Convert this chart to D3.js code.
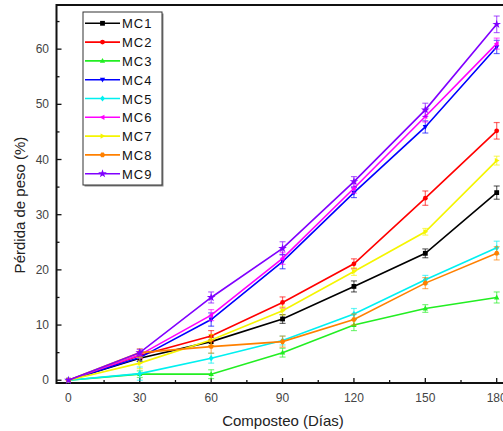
<!DOCTYPE html>
<html>
<head>
<meta charset="utf-8">
<script src="https://cdn.jsdelivr.net/npm/d3@7/dist/d3.min.js"></script>
<style>
  html, body { margin: 0; padding: 0; background: #fff; }
  svg { display: block; }
  text { font-family: "Liberation Sans", Arial, sans-serif; }
</style>
</head>
<body>
<svg id="chart" width="503" height="431"></svg>
<script>
// Composting days
const days = [0, 30, 60, 90, 120, 150, 180];

// Weight loss (%) per treatment
const seriesNames = ["MC1", "MC2", "MC3", "MC4", "MC5", "MC6", "MC7", "MC8", "MC9"];
const mc1 = [0, 4.0, 7.0, 11.1, 17.0, 23.0, 34.0];
const mc2 = [0, 4.5, 8.0, 14.1, 21.1, 33.0, 45.2];
const mc3 = [0, 1.1, 1.1, 5.0, 10.0, 13.0, 15.0];
const mc4 = [0, 4.1, 11.0, 21.5, 34.0, 45.9, 60.4];
const mc5 = [0, 1.2, 4.0, 7.2, 12.0, 18.2, 24.0];
const mc6 = [0, 4.6, 11.8, 22.1, 34.8, 47.8, 61.0];
const mc7 = [0, 3.1, 7.3, 12.6, 19.7, 26.9, 39.8];
const mc8 = [0, 5.0, 6.1, 7.0, 11.0, 17.6, 23.0];
const mc9 = [0, 5.0, 15.0, 23.9, 36.0, 49.0, 64.5];

// Standard deviations
const err1 = [0, 0.6, 0.8, 0.8, 1.0, 0.8, 1.2];
const err2 = [0, 0.6, 1.0, 1.0, 0.9, 1.3, 1.5];
const err3 = [0, 0.6, 0.8, 0.8, 1.0, 0.7, 1.0];
const err4 = [0, 0.7, 1.2, 1.3, 0.9, 1.1, 1.2];
const err5 = [0, 1.2, 0.9, 0.8, 1.0, 0.8, 1.2];
const err6 = [0, 0.6, 1.0, 1.1, 0.9, 1.0, 1.0];
const err7 = [0, 1.0, 1.0, 0.8, 0.7, 0.6, 0.8];
const err8 = [0, 0.7, 1.2, 1.0, 1.0, 1.0, 1.2];
const err9 = [0, 0.6, 1.0, 1.2, 0.9, 1.2, 1.5];

const colors = ["#000000", "#ff0000", "#22ee22", "#0000ff", "#00f0f0",
                "#ff00ff", "#f5f500", "#ff8000", "#8000ff"];
const symbols = ["square", "circle", "up", "down", "diamond", "left", "right", "hexagon", "star"];

const xTicks = [0, 30, 60, 90, 120, 150, 180];
const yTicks = [0, 10, 20, 30, 40, 50, 60];

const values = [mc1, mc2, mc3, mc4, mc5, mc6, mc7, mc8, mc9];
const errors = [err1, err2, err3, err4, err5, err6, err7, err8, err9];

const svg = d3.select("#chart");
const plotLeft = 56.5, plotRight = 508.6, plotTop = 5, plotBottom = 383;

const x = d3.scaleLinear().domain([-5, 185]).range([plotLeft, plotRight]);
const y = d3.scaleLinear().domain([-0.5, 68]).range([plotBottom, plotTop]);

// Marker shapes
function markerPath(kind, r) {
  switch (kind) {
    case "square": return `M${-r},${-r}H${r}V${r}H${-r}Z`;
    case "circle": return d3.symbol(d3.symbolCircle, Math.PI * r * r)();
    case "up": return `M0,${-r * 1.2}L${r * 1.1},${r * 0.8}L${-r * 1.1},${r * 0.8}Z`;
    case "down": return `M0,${r * 1.2}L${r * 1.1},${-r * 0.8}L${-r * 1.1},${-r * 0.8}Z`;
    case "diamond": return `M0,${-r * 1.3}L${r},0L0,${r * 1.3}L${-r},0Z`;
    case "left": return `M${-r * 1.2},0L${r * 0.8},${-r * 1.1}L${r * 0.8},${r * 1.1}Z`;
    case "right": return `M${r * 1.2},0L${-r * 0.8},${-r * 1.1}L${-r * 0.8},${r * 1.1}Z`;
    case "hexagon": {
      const pts = d3.range(6).map(i => {
        const a = Math.PI / 3 * i;
        return [r * 1.1 * Math.cos(a), r * 1.1 * Math.sin(a)];
      });
      return "M" + pts.map(p => p.join(",")).join("L") + "Z";
    }
    case "star": return d3.symbol(d3.symbolStar, r * r * 4)();
  }
}

// Plot frame
svg.append("rect")
  .attr("x", plotLeft).attr("y", plotTop)
  .attr("width", plotRight - plotLeft).attr("height", plotBottom - plotTop)
  .attr("fill", "none").attr("stroke", "#111").attr("stroke-width", 2);

// Inward ticks
const axisG = svg.append("g").attr("stroke", "#111").attr("stroke-width", 1.3);
d3.range(0, 181, 15).forEach(v => {
  const len = v % 30 === 0 ? 5 : 3;
  axisG.append("line").attr("x1", x(v)).attr("x2", x(v))
    .attr("y1", plotBottom).attr("y2", plotBottom - len);
});
d3.range(0, 66, 5).forEach(v => {
  const len = v % 10 === 0 ? 5 : 3;
  axisG.append("line").attr("y1", y(v)).attr("y2", y(v))
    .attr("x1", plotLeft).attr("x2", plotLeft + len);
});

// Tick labels
svg.append("g").selectAll("text").data(xTicks).join("text")
  .attr("x", d => x(d)).attr("y", 402)
  .attr("text-anchor", "middle")
  .attr("font-size", 12).attr("fill", "#444")
  .text(d => d);
svg.append("g").selectAll("text").data(yTicks).join("text")
  .attr("x", 49).attr("y", d => y(d) + 4)
  .attr("text-anchor", "end")
  .attr("font-size", 12).attr("fill", "#444")
  .text(d => d);

// Axis titles
svg.append("text")
  .attr("x", 283).attr("y", 426)
  .attr("text-anchor", "middle")
  .attr("font-size", 15).attr("fill", "#222")
  .text("Composteo (Días)");
svg.append("text")
  .attr("transform", "translate(25,205) rotate(-90)")
  .attr("text-anchor", "middle")
  .attr("font-size", 15).attr("fill", "#222")
  .text("Pérdida de peso (%)");

// Series
const plot = svg.append("g");
values.forEach((vals, i) => {
  const pts = days.map((d, k) => ({ d, v: vals[k], e: errors[i][k] }));
  const g = plot.append("g");

  // error bars
  const eb = g.append("g").attr("stroke", colors[i]).attr("stroke-opacity", 0.6)
    .attr("stroke-width", 1.2);
  pts.filter(p => p.e > 0).forEach(p => {
    eb.append("line").attr("x1", x(p.d)).attr("x2", x(p.d))
      .attr("y1", y(p.v - p.e)).attr("y2", y(p.v + p.e));
    [p.v - p.e, p.v + p.e].forEach(c => {
      eb.append("line").attr("x1", x(p.d) - 3).attr("x2", x(p.d) + 3)
        .attr("y1", y(c)).attr("y2", y(c));
    });
  });

  g.append("path")
    .datum(pts)
    .attr("fill", "none")
    .attr("stroke", colors[i])
    .attr("stroke-width", 1.6)
    .attr("d", d3.line().x(p => x(p.d)).y(p => y(p.v)));

  g.selectAll("path.m").data(pts).join("path")
    .attr("class", "m")
    .attr("transform", p => `translate(${x(p.d)},${y(p.v)})`)
    .attr("d", markerPath(symbols[i], 2.4))
    .attr("fill", colors[i]);
});

// Legend
const lg = svg.append("g");
const lx = 83, ly = 12, lw = 79, lh = 173;
lg.append("rect").attr("x", lx + 1.5).attr("y", ly + 1.5)
  .attr("width", lw).attr("height", lh).attr("fill", "#888");
lg.append("rect").attr("x", lx).attr("y", ly)
  .attr("width", lw).attr("height", lh)
  .attr("fill", "#fff").attr("stroke", "#333").attr("stroke-width", 1);
seriesNames.forEach((name, i) => {
  const ry = 23.3 + i * 18.8;
  lg.append("line").attr("x1", 85).attr("x2", 120)
    .attr("y1", ry).attr("y2", ry)
    .attr("stroke", colors[i]).attr("stroke-width", 1.6);
  lg.append("path")
    .attr("transform", `translate(102.5,${ry})`)
    .attr("d", markerPath(symbols[i], 2.4))
    .attr("fill", colors[i]);
  lg.append("text").attr("x", 122).attr("y", ry + 5)
    .attr("font-size", 13).attr("letter-spacing", 1)
    .attr("fill", "#111")
    .text(name);
});
</script>
</body>
</html>
